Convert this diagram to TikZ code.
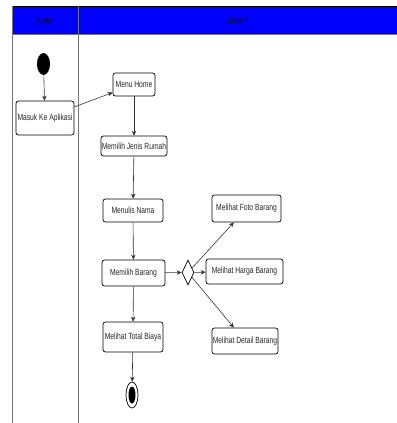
\documentclass[tikz,border=0pt]{standalone}
\usepackage{fontspec}
\setmainfont{Liberation Sans}[FakeStretch=0.75]
\usetikzlibrary{arrows.meta,shapes.geometric}
\definecolor{headtext}{RGB}{10,10,40}

\begin{document}
\begin{tikzpicture}[x=1bp,y=-1bp,
  every node/.style={font=\fontsize{9}{10}\selectfont,text=black!85},
  act/.style={draw,rounded corners=2.5bp,line width=0.7bp,inner sep=0.5bp},
  flow/.style={-{Stealth[length=5bp,width=4.5bp]},line width=0.6bp,draw=black!80},
  lane/.style={draw=black!55,line width=0.8bp}
  ]
    \useasboundingbox (0,0) rectangle (397,423);

    % swimlanes
    \fill[blue] (12,6) rectangle (397,34);
    \draw[line width=1bp] (12,6) -- (397,6);
    \draw[lane] (12,34) -- (397,34);
    \draw[lane] (12,6) -- (12,423);
    \draw[lane] (78,6) -- (78,423);
    \node[text=headtext] (user) at (45,20) {User};
    \node[text=headtext] (sistem) at (238,20) {Sistem};

    % activities
    \node[ellipse,fill,minimum width=13bp,minimum height=22bp,inner sep=0] (start) at (43.5,64) {};
    \node[act,minimum width=58bp,minimum height=34bp] (masuk) at (45,118) {Masuk Ke Aplikasi};
    \node[act,minimum width=42bp,minimum height=23bp] (menu) at (134,84.5) {Menu Home};
    \node[act,minimum width=66bp,minimum height=20bp] (jenis) at (134,146) {Memilih Jenis Rumah};
    \node[act,minimum width=60bp,minimum height=23bp] (nama) at (133,210.5) {Menulis Nama};
    \node[act,minimum width=63bp,minimum height=26bp] (barang) at (133.5,273) {Memilih Barang};
    \node[diamond,draw,line width=0.7bp,aspect=0.5,inner sep=0,minimum width=12bp,minimum height=25bp] (pilih) at (188,272.5) {};
    \node[act,minimum width=69bp,minimum height=27bp] (foto) at (246.5,208.5) {Melihat Foto Barang};
    \node[act,minimum width=77bp,minimum height=25bp] (harga) at (244.5,271.5) {Melihat Harga Barang};
    \node[act,minimum width=66bp,minimum height=26bp] (detail) at (245,341) {Melihat Detail Barang};
    \node[act,minimum width=60bp,minimum height=30bp] (total) at (133,337) {Melihat Total Biaya};
    \node[ellipse,draw,line width=0.7bp,minimum width=12bp,minimum height=26bp,inner sep=0] (stop) at (132,395) {};
    \node[ellipse,fill,minimum width=7bp,minimum height=17bp,inner sep=0] (stopdot) at (stop) {};

    % flow
    \draw[flow] (start) -- (masuk);
    \draw[flow] (masuk) -- (menu);
    \draw[flow] (menu) -- (jenis);
    \draw[flow] (jenis) -- (nama);
    \draw[flow] (nama) -- (barang);
    \draw[flow] (barang) -- (pilih);
    \draw[flow] (pilih) -- (foto);
    \draw[flow] (pilih) -- (harga);
    \draw[flow] (pilih) -- (detail);
    \draw[flow] (barang) -- (total);
    \draw[flow] (total) -- (stop);
\end{tikzpicture}
\end{document}
